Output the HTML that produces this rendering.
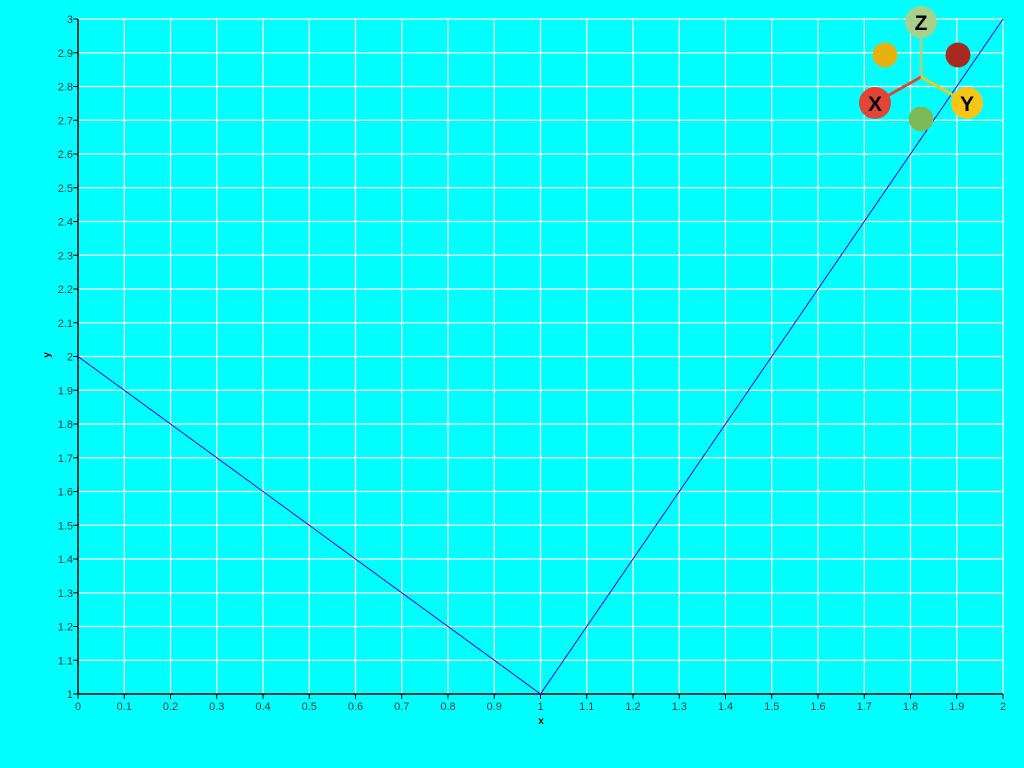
<!DOCTYPE html>
<html><head><meta charset="utf-8"><style>
html,body{margin:0;padding:0;background:#00ffff;width:1024px;height:768px;overflow:hidden;font-family:"Liberation Sans",sans-serif}
</style></head><body>
<svg id="chart" width="1024" height="768" xmlns="http://www.w3.org/2000/svg">
<rect width="1024" height="768" fill="#00ffff"/>
<g id="grid"></g>
<g id="axes"></g>
<g id="series"></g>
<text x="541" y="724" font-size="10" font-weight="bold" text-anchor="middle" fill="#000">x</text>
<text x="50" y="355" font-size="10" font-weight="bold" text-anchor="middle" fill="#000" transform="rotate(-90 50 355)">y</text>
<g>
<line x1="921" y1="77" x2="921" y2="22" stroke="#a8d08d" stroke-width="3"/>
<line x1="921" y1="77" x2="875" y2="103" stroke="#e04538" stroke-width="3"/>
<line x1="921" y1="77" x2="967" y2="103" stroke="#f5c518" stroke-width="3"/>
<circle cx="885" cy="55" r="12.5" fill="#e6b00f"/>
<circle cx="958" cy="55" r="12.5" fill="#a82a1e"/>
<circle cx="921" cy="119" r="12.5" fill="#7dba55"/>
<circle cx="921" cy="22" r="16" fill="#a8d08d"/>
<circle cx="875" cy="103" r="16" fill="#e04538"/>
<circle cx="967" cy="103" r="16" fill="#f5c518"/>
<text x="921" y="30" font-size="21" font-weight="bold" text-anchor="middle" fill="#000">Z</text>
<text x="875" y="111" font-size="21" font-weight="bold" text-anchor="middle" fill="#000">X</text>
<text x="967" y="111" font-size="21" font-weight="bold" text-anchor="middle" fill="#000">Y</text>
</g>
</svg>
<script>
const xValues = [0, 1, 2];
const yValues = [2, 1, 3];
const xTicks = [0,0.1,0.2,0.3,0.4,0.5,0.6,0.7,0.8,0.9,1,1.1,1.2,1.3,1.4,1.5,1.6,1.7,1.8,1.9,2];
const yTicks = [1,1.1,1.2,1.3,1.4,1.5,1.6,1.7,1.8,1.9,2,2.1,2.2,2.3,2.4,2.5,2.6,2.7,2.8,2.9,3];

const NS = "http://www.w3.org/2000/svg";
const L = 78, R = 1003, T = 19, B = 694;
const xMin = 0, xMax = 2, yMin = 1, yMax = 3;
function sx(v){ return L + (v - xMin) / (xMax - xMin) * (R - L); }
function sy(v){ return B - (v - yMin) / (yMax - yMin) * (B - T); }
function mk(tag, attrs, parent){
  const e = document.createElementNS(NS, tag);
  for (const k in attrs) e.setAttribute(k, attrs[k]);
  parent.appendChild(e);
  return e;
}
const grid = document.getElementById('grid');
const axes = document.getElementById('axes');
const series = document.getElementById('series');

xTicks.forEach(function(t){
  const x = sx(t);
  if (t !== xMin) {
    const g = mk('line', {x1:x, y1:T+1, x2:x, y2:B, stroke:'#ffffff', 'stroke-width':1.2}, grid);
    
    
  }
  mk('line', {x1:x, y1:B, x2:x, y2:B+5, stroke:'#000', 'stroke-width':1}, axes);
  const lb = mk('text', {x:x, y:B+16, 'font-size':11, 'text-anchor':'middle', fill:'#1a3a3a'}, axes);
  lb.textContent = String(t);
  
  
});
yTicks.forEach(function(t){
  const y = sy(t);
  if (t !== yMin) {
    const g = mk('line', {x1:L, y1:y, x2:R, y2:y, stroke:'#ffffff', 'stroke-width':1.2}, grid);
    
    
  }
  mk('line', {x1:L-5, y1:y, x2:L, y2:y, stroke:'#000', 'stroke-width':1}, axes);
  const lb = mk('text', {x:L-5, y:y+4, 'font-size':11, 'text-anchor':'end', fill:'#1a3a3a'}, axes);
  lb.textContent = String(t);
  
  
});
const xa = mk('line', {x1:L, y1:B, x2:R, y2:B, stroke:'#000', 'stroke-width':1.5}, axes);


const ya = mk('line', {x1:L, y1:T, x2:L, y2:B, stroke:'#000', 'stroke-width':1.5}, axes);



const pts = xValues.map(function(v, i){ return sx(v) + ',' + sy(yValues[i]); }).join(' ');
const pl = mk('polyline', {points:pts, fill:'none', stroke:'#0000ff', 'stroke-width':1}, series);


</script>
</body></html>
